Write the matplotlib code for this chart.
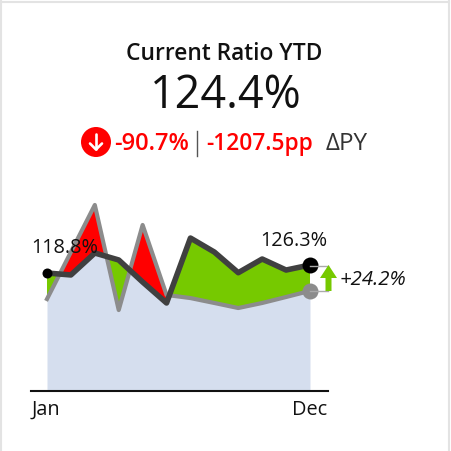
import numpy as np
import matplotlib
matplotlib.use("Agg")
import matplotlib.pyplot as plt
from matplotlib.lines import Line2D
from matplotlib.patches import Circle, Polygon

months = ["Jan","Feb","Mar","Apr","May","Jun","Jul","Aug","Sep","Oct","Nov","Dec"]
actual = [118.8,117.0,137.5,131.0,110.4,90.8,151.5,138.4,119.1,131.9,121.6,126.3]
prior = [94.5,138.4,182.4,84.2,163.7,98.3,95.4,90.8,86.1,90.8,96.4,102.1]
title = "Current Ratio YTD"
kpi = "124.4%"
delta_pct = "-90.7%"
delta_pp = "-1207.5pp"
delta_lbl = "ΔPY"
end_delta = "+24.2%"

plt.rcParams['font.family'] = ['Open Sans', 'DejaVu Sans']
GREEN, RED, BLUE, DARK, GRAY = "#76C900", "#FF0000", "#D5DEEE", "#404040", "#8C8C8C"
W, H = 452, 451
fig = plt.figure(figsize=(W/100, H/100), dpi=100, facecolor="white")

# chart axes: x 31..328 px, y 190..391 px
ax = fig.add_axes([31/W, 1-391/H, 297/W, 201/H])
x = np.arange(len(months), dtype=float)
a, p = np.array(actual), np.array(prior)
ax.set_xlim(-0.669, 11.753)
ax.set_ylim(8.54, 196.4)
bottom = ax.get_ylim()[0]
ax.fill_between(x, bottom, p, color=BLUE, lw=0, zorder=1)
ax.fill_between(x, p, a, where=a >= p, interpolate=True, color=GREEN, lw=0, zorder=2)
ax.fill_between(x, p, a, where=a <= p, interpolate=True, color=RED, lw=0, zorder=2)
ax.plot(x, p, color=GRAY, lw=3.0, zorder=3, solid_joinstyle="round")
ax.plot(x, a, color=DARK, lw=4.0, zorder=4, solid_joinstyle="round")
ax.plot(x[0], a[0], "o", color="black", ms=7.2, mew=0, zorder=5)
ax.plot(x[-1], a[-1], "o", color="black", ms=11.5, mew=0, zorder=6)
ax.plot(x[-1], p[-1], "o", color=GRAY, ms=11.5, mew=0, zorder=6)

for s in ["top", "left", "right"]:
    ax.spines[s].set_visible(False)
ax.spines["bottom"].set_linewidth(1.5)
ax.spines["bottom"].set_color("#111111")
ax.set_yticks([])
ax.set_xticks([])
ax.patch.set_alpha(0)

# pixel overlay
ov = fig.add_axes([0, 0, 1, 1], zorder=10)
ov.set_xlim(0, W); ov.set_ylim(H, 0); ov.axis("off"); ov.patch.set_alpha(0)

ov.text(224, 54, title, ha="center", va="center", fontsize=16.4, fontweight=600, color="#111111")
ov.text(226, 96, kpi, ha="center", va="center", fontsize=32.3, color="#111111")

ov.add_patch(Circle((96, 142), 15, color=RED, lw=0))
ov.plot([96, 96], [134, 149], color="white", lw=1.9, solid_capstyle="round")
ov.plot([90, 96, 102], [143.5, 149.5, 143.5], color="white", lw=1.9, solid_capstyle="round", solid_joinstyle="round")
ov.text(114, 144, delta_pct, ha="left", va="center", fontsize=17, fontweight=600, color=RED)
ov.plot([197, 197], [131, 156], color="#555555", lw=1)
ov.text(206, 144, delta_pp, ha="left", va="center", fontsize=16.4, fontweight=600, color=RED)
ov.text(326, 144, delta_lbl, ha="left", va="center", fontsize=17.5, color="#333333")

ov.text(64.5, 248, f"{actual[0]:.1f}%", ha="center", va="center", fontsize=14.3, color="#111111")
ov.text(293.5, 241, f"{actual[-1]:.1f}%", ha="center", va="center", fontsize=14.3, color="#111111")
ov.text(340, 280, end_delta, ha="left", va="center", fontsize=14.7, style="italic", color="#111111")
ov.text(32, 410, months[0], ha="left", va="center", fontsize=14.3, color="#111111")
ov.text(327, 410, months[-1], ha="right", va="center", fontsize=14.3, color="#111111")

# variance bracket and arrow
ov.plot([310, 328], [265.5, 265.5], color="#AAAAAA", lw=1, zorder=1)
ov.plot([310, 328], [291, 291], color="#AAAAAA", lw=1, zorder=1)
ov.add_patch(Polygon([(328.5,265),(337,278),(331.5,278),(331.5,291),(325.5,291),(325.5,278),(320,278)],
                     closed=True, color=GREEN, lw=0, zorder=2))

# card border
fig.add_artist(Line2D((1/W, 1/W), (0, 1), color="#E3E3E3", lw=1.5))
fig.add_artist(Line2D((449.5/W, 449.5/W), (0, 1), color="#E3E3E3", lw=1.5))
fig.add_artist(Line2D((0, 449.5/W), (1-1.5/H, 1-1.5/H), color="#E3E3E3", lw=1.5))

fig.savefig("out.png", dpi=100)
